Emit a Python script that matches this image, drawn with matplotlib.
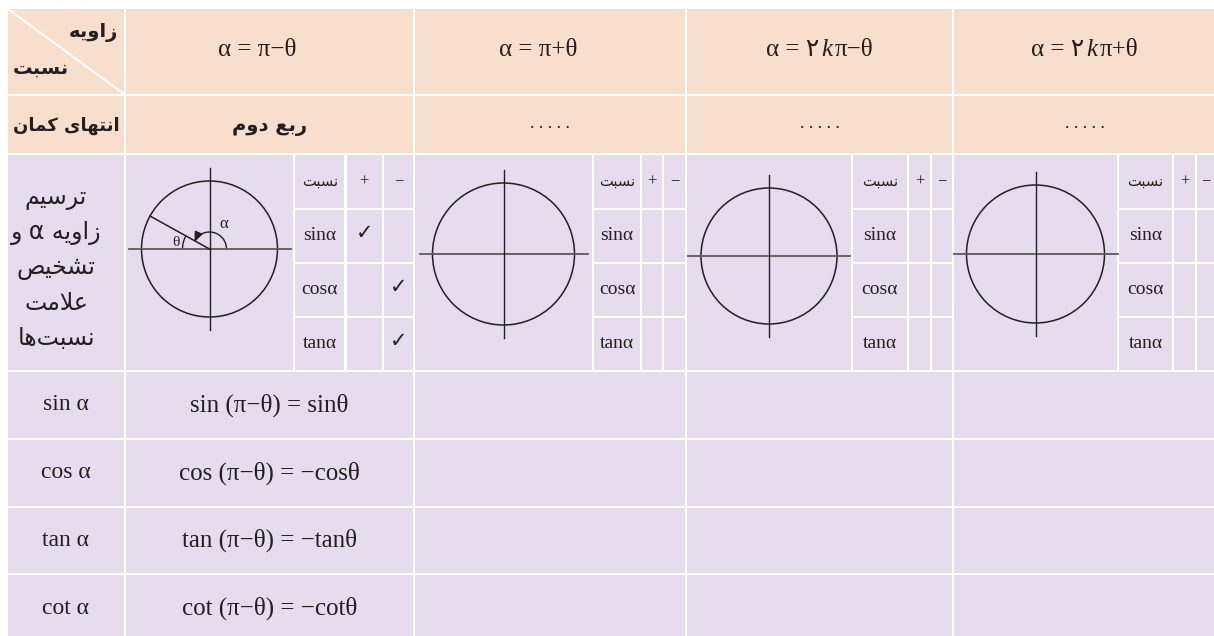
import numpy as np
import matplotlib.pyplot as plt
from matplotlib.patches import Rectangle, Circle, Arc

# Persian strings are stored pre-shaped (presentation forms, visual order),
# because matplotlib does no Arabic shaping itself.
corner_top = "\uFEEA\uFEF3\uFEED\uFE8D\uFEAF"            # زاویه
corner_bottom = "\uFE96\uFE92\uFEB4\uFEE7"               # نسبت
arc_end_label = "\uFEE5\uFE8E\uFEE4\uFEDB \uFEEF\uFE8E\uFEEC\uFE98\uFEE7\uFE8D"  # انتهای کمان
draw_label = ["\uFEE2\uFEF4\uFEB3\uFEAE\uFE97",          # ترسیم
              "\uFEED \u03b1 \uFEEA\uFEF3\uFEED\uFE8D\uFEAF",  # زاویه α و
              "\uFEBA\uFEF4\uFEA8\uFEB8\uFE97",          # تشخیص
              "\uFE96\uFEE3\uFEFC\uFECB",                # علامت
              "\uFE8E\uFEEB\uFE96\uFE92\uFEB4\uFEE7"]    # نسبت‌ها

# column headers: (before k, k, after k)
angle_heads = [("α = π−θ", "", ""), ("α = π+θ", "", ""),
               ("α = ۲", "k", "π−θ"), ("α = ۲", "k", "π+θ")]
quadrants = ["\uFEE1\uFEED\uFEA9 \uFECA\uFE91\uFEAD",     # ربع دوم
             ". . . . .", ". . . . .", ". . . . ."]

sign_rows = ["sinα", "cosα", "tanα"]
# sign checks for the first column only: '+' or '-'
sign_checks = {"sinα": "+", "cosα": "-", "tanα": "-"}

ratio_names = ["sin α", "cos α", "tan α", "cot α"]
formulas = ["sin (π−θ) = sinθ", "cos (π−θ) = −cosθ",
            "tan (π−θ) = −tanθ", "cot (π−θ) = −cotθ"]

# layout (pixels)
col_x = [7, 125, 414, 686, 953, 1216]
row_y = [8, 95, 154, 371, 439, 507, 574, 642]
sub_x = [[294, 345.5, 383], [593, 641, 663], [852, 908, 931], [1118, 1173, 1196]]
sub_y = [209, 263, 317]
circ_y = [249, 254, 256, 254]
circ_r = [68, 71, 68, 69]
head_shift = [-12, -12, 0, 0]

peach = "#F8DECD"
lav = "#E5DDEE"
ink = "#231F20"
serif = "Liberation Serif"
fa = "DejaVu Sans"

fig = plt.figure(figsize=(12.14, 6.36), dpi=100)
ax = fig.add_axes([0, 0, 1, 1])
ax.set_xlim(0, 1214)
ax.set_ylim(636, 0)
ax.axis("off")

g = 1.2


def cell(x0, x1, y0, y1, color):
    ax.add_patch(Rectangle((x0 + g, y0 + g), x1 - x0 - 2 * g, y1 - y0 - 2 * g,
                           facecolor=color, edgecolor="none"))


# header rows
for r in range(2):
    for c in range(5):
        cell(col_x[c], col_x[c + 1], row_y[r], row_y[r + 1], peach)
# sign-drawing row
cell(col_x[0], col_x[1], row_y[2], row_y[3], lav)
for c in range(4):
    xs = [col_x[c + 1]] + sub_x[c] + [col_x[c + 2]]
    cell(xs[0], xs[1], row_y[2], row_y[3], lav)
    ys = [row_y[2]] + sub_y + [row_y[3]]
    for i in range(1, 4):
        for j in range(4):
            cell(xs[i], xs[i + 1], ys[j], ys[j + 1], lav)
# formula rows
for r in range(3, 7):
    for c in range(5):
        cell(col_x[c], col_x[c + 1], row_y[r], row_y[r + 1], lav)

# corner cell
ax.plot([col_x[0] + 1, col_x[1] - 1], [row_y[0] + 1, row_y[1] - 1], color="white", lw=1.5)
ax.text(118, 32, corner_top, family=fa, weight="bold", fontsize=14, ha="right", va="center", color=ink)
ax.text(13, 68, corner_bottom, family=fa, weight="bold", fontsize=14, ha="left", va="center", color=ink)
ax.text(66, 126, arc_end_label, family=fa, weight="bold", fontsize=13, ha="center", va="center", color=ink)

renderer = fig.canvas.get_renderer()


def head_text(xc, yc, parts, size):
    pre, k, post = parts
    items = [(pre, dict(family=[serif, fa])), (k, dict(family=serif, style="italic")),
             (post, dict(family=serif))]
    objs, widths = [], []
    for s, kw in items:
        if not s:
            continue
        t = ax.text(0, yc, s, fontsize=size, ha="left", va="center", color=ink, **kw)
        objs.append(t)
        widths.append(t.get_window_extent(renderer).width)
    gap = 2
    total = sum(widths) + gap * (len(widths) - 1)
    x = xc - total / 2
    for t, w in zip(objs, widths):
        t.set_x(x)
        x += w + gap


for c in range(4):
    xc = (col_x[c + 1] + col_x[c + 2]) / 2
    head_text(xc + head_shift[c], 50, angle_heads[c], 18)
    if c == 0:
        ax.text(xc, 127, quadrants[c], family=fa, weight="bold", fontsize=14,
                ha="center", va="center", color=ink)
    else:
        ax.text(xc, 124, quadrants[c], family=serif, fontsize=13,
                ha="center", va="center", color=ink)

# left label of drawing row
for i, s in enumerate(draw_label):
    ax.text(56, 198 + i * 35, s, family=[fa], fontsize=17, ha="center", va="center", color=ink)

# circles and sign sub-tables
ys = [row_y[2]] + sub_y + [row_y[3]]
for c in range(4):
    xs = [col_x[c + 1]] + sub_x[c] + [col_x[c + 2]]
    cx = (xs[0] + xs[1]) / 2
    cy, rr = circ_y[c], circ_r[c]
    ax.add_patch(Circle((cx, cy), rr, fill=False, edgecolor=ink, lw=1.1))
    ax.plot([cx - rr - 13, cx + rr + 13], [cy, cy], color="#5E585C", lw=1.3)
    ax.plot([cx, cx], [cy - rr - 13, cy + rr + 13], color=ink, lw=1.0)

    mids_x = [(xs[i] + xs[i + 1]) / 2 for i in range(1, 4)]
    mids_y = [(ys[j] + ys[j + 1]) / 2 for j in range(4)]
    ax.text(mids_x[0], mids_y[0], corner_bottom, family=fa, fontsize=10.5, ha="center", va="center", color=ink)
    ax.text(mids_x[1], mids_y[0], "+", family=serif, fontsize=12, ha="center", va="center", color=ink)
    ax.text(mids_x[2], mids_y[0], "−", family=serif, fontsize=12, ha="center", va="center", color=ink)
    for j, name in enumerate(sign_rows):
        ax.text(mids_x[0], mids_y[j + 1], name, family=serif, fontsize=14, ha="center", va="center", color=ink)
        if c == 0:
            k = 1 if sign_checks[name] == "+" else 2
            ax.text(mids_x[k], mids_y[j + 1] - 3, "✓", family=fa, fontsize=15,
                    ha="center", va="center", color=ink)

    if c == 0:
        ang = np.deg2rad(151)
        ax.plot([cx, cx + rr * np.cos(ang)], [cy, cy - rr * np.sin(ang)], color=ink, lw=1.1)
        # y axis is inverted, so visual angle a is drawn at data angle -a
        ax.add_patch(Arc((cx, cy), 34, 34, theta1=-143, theta2=0, color=ink, lw=1.0))
        a1 = np.deg2rad(143)
        a2 = np.deg2rad(152)
        ax.annotate("", xy=(cx + 17 * np.cos(a2), cy - 17 * np.sin(a2) + 1),
                    xytext=(cx + 17 * np.cos(a1), cy - 17 * np.sin(a1)),
                    arrowprops=dict(arrowstyle="-|>,head_length=0.6,head_width=0.25",
                                    color=ink, lw=1.0, shrinkA=0, shrinkB=0))
        ax.add_patch(Arc((cx, cy), 54, 54, theta1=-180, theta2=-151, color=ink, lw=1.0))
        ax.text(cx - 34, cy - 7, "θ", family=serif, fontsize=11, ha="center", va="center", color=ink)
        ax.text(cx + 14, cy - 25, "α", family=serif, fontsize=12, ha="center", va="center", color=ink)

# formula rows
for i in range(4):
    yc = (row_y[3 + i] + row_y[4 + i]) / 2
    ax.text(66, yc, ratio_names[i], family=serif, fontsize=17, ha="center", va="center", color=ink)
    ax.text((col_x[1] + col_x[2]) / 2, yc, formulas[i], family=serif, fontsize=18,
            ha="center", va="center", color=ink)

plt.savefig("out.png", dpi=100)
